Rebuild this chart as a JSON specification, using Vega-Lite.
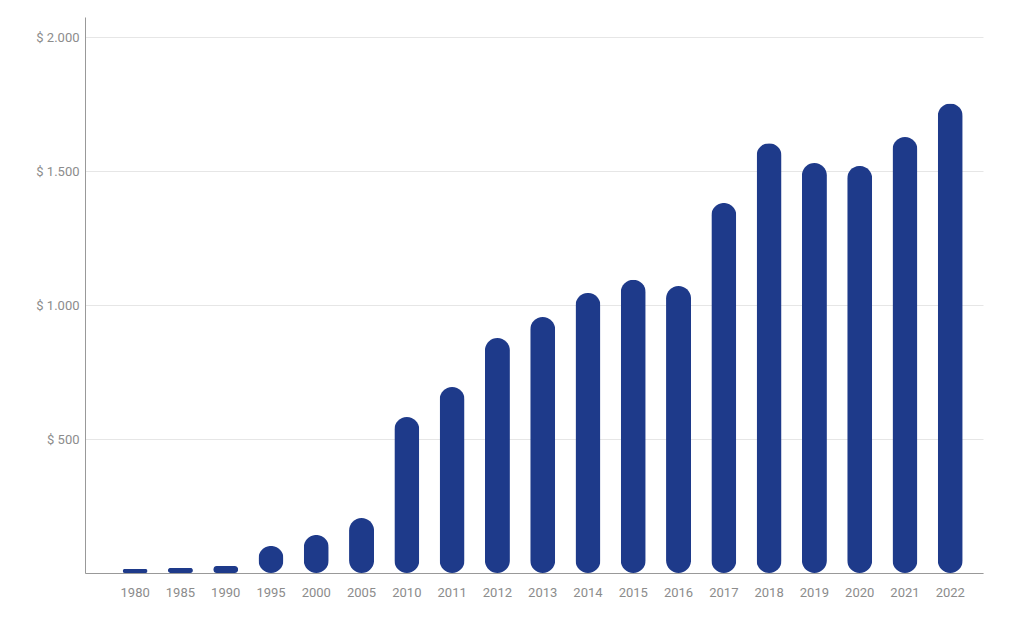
{
  "$schema": "https://vega.github.io/schema/vega-lite/v6.json",
  "width": 898,
  "height": 556,
  "autosize": {"type": "none"},
  "padding": {"left": 85, "top": 17, "right": 41, "bottom": 44},
  "background": "white",
  "config": {
    "view": {"stroke": null},
    "font": "Liberation Sans Narrow",
    "axis": {"labelFont": "Liberation Sans Narrow, Roboto", "labelColor": "#8c8c8c", "labelFontSize": 13}
  },
  "data": {
    "values": [
      {"year": "1980", "value": 15},
      {"year": "1985", "value": 19},
      {"year": "1990", "value": 26},
      {"year": "1995", "value": 101},
      {"year": "2000", "value": 142},
      {"year": "2005", "value": 205},
      {"year": "2010", "value": 582},
      {"year": "2011", "value": 694},
      {"year": "2012", "value": 877},
      {"year": "2013", "value": 955},
      {"year": "2014", "value": 1045},
      {"year": "2015", "value": 1094},
      {"year": "2016", "value": 1071},
      {"year": "2017", "value": 1381},
      {"year": "2018", "value": 1604},
      {"year": "2019", "value": 1530},
      {"year": "2020", "value": 1519},
      {"year": "2021", "value": 1627},
      {"year": "2022", "value": 1752}
    ]
  },
  "mark": {"type": "bar", "color": "#1e3a8a", "cornerRadius": 12.5, "width": 25},
  "encoding": {
    "x": {
      "field": "year",
      "type": "ordinal",
      "sort": null,
      "scale": {"paddingInner": 0.45, "paddingOuter": 0.64, "align": 0.65},
      "axis": {
        "title": null,
        "labelAngle": 0,
        "ticks": false,
        "labelPadding": 13,
        "domainColor": "#999999",
        "grid": false
      }
    },
    "y": {
      "field": "value",
      "type": "quantitative",
      "scale": {"domain": [0, 2075], "nice": false},
      "axis": {
        "title": null,
        "values": [0, 500, 1000, 1500, 2000],
        "labelExpr": "datum.value == 0 ? '' : '$ ' + replace(format(datum.value, ','), ',', '.')",
        "ticks": false,
        "labelPadding": 6,
        "domainColor": "#999999",
        "gridColor": "#e6e6e6",
        "gridWidth": 1
      }
    }
  }
}
